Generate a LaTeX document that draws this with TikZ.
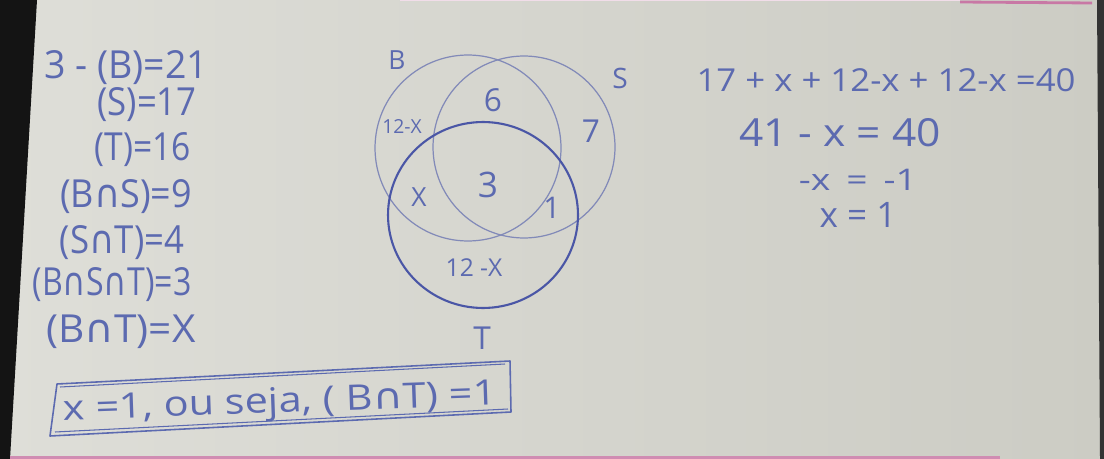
\documentclass[tikz,border=0pt]{standalone}
\usepackage{graphicx}
\usepackage{fontspec}
\setmainfont{Open Sans}
\newfontfamily\dvfont{DejaVu Sans}
\newcommand{\capsym}{{\dvfont ∩}}
\newcommand{\sx}[2]{\scalebox{#1}[1]{#2}}
\definecolor{paperL}{RGB}{222,222,216}
\definecolor{paperR}{RGB}{204,204,196}
\definecolor{ink}{RGB}{92,106,176}
\definecolor{inklight}{RGB}{130,138,184}
\definecolor{inkdark}{RGB}{74,86,166}
\definecolor{pinkline}{RGB}{200,120,165}
\tikzset{
  hw/.style={text=ink, inner sep=0pt, font=\fontsize{#1}{#1}\selectfont},
  hw/.default=22,
  boxline/.style={draw=ink, line width=0.9pt, line join=round},
}
\begin{document}
\begin{tikzpicture}[x=0.02cm,y=-0.02cm]
\useasboundingbox (0,0) rectangle (1104,459);
% paper and photo edges
\shade[left color=paperL, right color=paperR] (0,0) rectangle (1104,459);
\fill[black!92] (0,0) -- (37,0) -- (10,459) -- (0,459) -- cycle;
\fill[black!80] (1097,0) -- (1104,0) -- (1104,459) -- (1100,459) -- cycle;
\draw[pinkline!25, line width=0.8pt] (400,0.5) -- (960,0.5);
\draw[pinkline, line width=1.6pt] (960,2) -- (1092,3);
\draw[pinkline!85, line width=2pt] (10,458) -- (1000,458);

% left column
\node[hw=22] (l1) at (126,68) {\sx{0.97}{3 - (B)=21}};
\node[hw=22] (l2) at (147,105) {\sx{0.9}{(S)=17}};
\node[hw=22] (l3) at (143,150) {\sx{0.87}{(T)=16}};
\node[hw=22] (l4) at (126,197) {\sx{0.93}{(B\capsym S)=9}};
\node[hw=22] (l5) at (122,243) {\sx{0.9}{(S\capsym T)=4}};
\node[hw=22] (l6) at (112,285) {\sx{0.83}{(B\capsym S\capsym T)=3}};
\node[hw=22] (l7) at (121,332) {\sx{1.05}{(B\capsym T)=X}};

% answer box
\draw[boxline] (57,384) -- (510,361) -- (511,412) -- (50,436) -- cycle;
\draw[boxline, line width=0.6pt] (60,387) -- (505,364);
\draw[boxline, line width=0.6pt] (55,432) -- (508,409);
\node[hw=20, rotate=2] (ans) at (280,404) {\sx{1.18}{x =1, ou seja, ( B\capsym T) =1}};

% Venn diagram
\draw[inklight, line width=0.7pt] (468,148) circle [radius=1.86cm];
\draw[inklight, line width=0.7pt] (524,147) circle [radius=1.82cm];
\draw[inkdark, line width=1.2pt] (483,215) ellipse [x radius=1.9cm, y radius=1.86cm];
\node[hw=15] (lB) at (397,60) {B};
\node[hw=16] (lS) at (620,78) {S};
\node[hw=18] (lT) at (482,338) {T};
\node[hw=11] (vb) at (402,127) {12-X};
\node[hw=18] (v6) at (493,100) {6};
\node[hw=18] (v7) at (591,131) {7};
\node[hw=20] (v3) at (488,185) {3};
\node[hw=15] (vx) at (419,197) {X};
\node[hw=17] (v1) at (552,208) {1};
\node[hw=14] (vt) at (474,268) {12 -X};

% right-hand working
\node[hw=18] (r1) at (886,80) {\sx{1.1}{17 + x + 12-x + 12-x =40}};
\node[hw=22] (r2) at (840,133) {\sx{1.1}{41 - x = 40}};
\node[hw=17] (r3) at (858,180) {\sx{1.25}{-x \,=\, -1}};
\node[hw=20] (r4) at (858,215) {x = 1};
\end{tikzpicture}
\end{document}
